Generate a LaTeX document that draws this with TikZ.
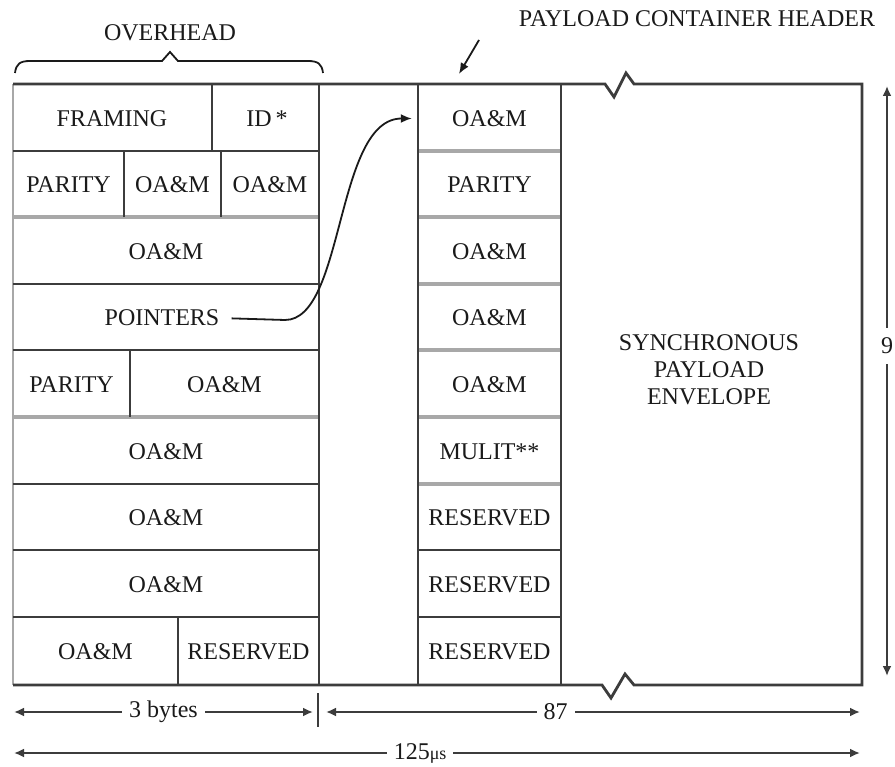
\documentclass[tikz,border=0pt]{standalone}
\usepackage{fontspec}
\setmainfont{Liberation Serif}
\usetikzlibrary{arrows.meta,calc}
\definecolor{ln}{HTML}{3C3C3C}
\definecolor{gl}{HTML}{A8A8A8}
\definecolor{tx}{HTML}{1A1A1A}
\begin{document}
\begin{tikzpicture}[x=1pt,y=-1pt,
  dk/.style={draw=ln,line width=2.8pt},
  gr/.style={draw=gl,line width=4.5pt},
  lg/.style={draw=gl,line width=2.2pt},
  lbl/.style={text=tx,font=\fontsize{24}{27}\selectfont,inner sep=0pt,align=center},
  cell/.style={lbl,minimum width=143pt,minimum height=66pt},
  dim/.style={draw=ln,line width=2pt,{Latex[length=10pt,width=9pt]}-{Latex[length=10pt,width=9pt]}},
  dlab/.style={lbl,fill=white,inner xsep=7pt,inner ysep=3pt},
  ptrarrow/.style={draw=tx,line width=1.8pt,-{Latex[length=11pt,width=9pt]}},
]
\useasboundingbox (0,0) rectangle (895,767);
\fill[white] (0,0) rectangle (895,767);

% gray dividers
\foreach \y in {151,217,284,350,417,484} \draw[gr] (418,\y) -- (561,\y);
\draw[gr] (13,217) -- (319,217);
\draw[gr] (13,417) -- (319,417);
\draw[lg] (13,84) -- (13,685);

% dark dividers
\foreach \y in {151,284,350,484,550,617} \draw[dk] (13,\y) -- (319,\y);
\foreach \y in {550,617} \draw[dk] (418,\y) -- (561,\y);

% outline with breaks
\draw[dk] (13,84) -- (605,84) -- (614,97) -- (626,73) -- (634,84) -- (862,84) -- (862,685)
  -- (634,685) -- (625,674) -- (611,698) -- (602,685) -- (13,685);
\draw[dk] (319,84) -- (319,685);
\draw[dk] (418,84) -- (418,685);
\draw[dk] (561,84) -- (561,685);

% vertical cell dividers
\draw[dk] (212,84) -- (212,151);
\draw[dk] (124,151) -- (124,217);
\draw[dk] (221,151) -- (221,217);
\draw[dk] (130,350) -- (130,417);
\draw[dk] (178,617) -- (178,685);

% left block texts
\node[lbl] (fr) at (112,118.5) {FRAMING};
\node[lbl] (id) at (267,118.5) {ID\,*};
\node[lbl] (p1) at (68.5,185) {PARITY};
\node[lbl] (o1) at (172.5,185) {OA\&M};
\node[lbl] (o2) at (270,185) {OA\&M};
\node[lbl] (o3) at (166,251.5) {OA\&M};
\node[lbl] (ptr) at (162,318) {POINTERS};
\node[lbl] (p2) at (71.5,384.5) {PARITY};
\node[lbl] (o4) at (224.5,384.5) {OA\&M};
\node[lbl] (o5) at (166,451.5) {OA\&M};
\node[lbl] (o6) at (166,518) {OA\&M};
\node[lbl] (o7) at (166,584.5) {OA\&M};
\node[lbl] (o8) at (95.5,652) {OA\&M};
\node[lbl] (r0) at (248.5,652) {RESERVED};

% header column
\node[cell] (h1) at (489.5,118.5) {OA\&M};
\node[cell] (h2) at (489.5,185) {PARITY};
\node[cell] (h3) at (489.5,251.5) {OA\&M};
\node[cell] (h4) at (489.5,318) {OA\&M};
\node[cell] (h5) at (489.5,384.5) {OA\&M};
\node[cell] (h6) at (489.5,451.5) {MULIT**};
\node[cell] (h7) at (489.5,518) {RESERVED};
\node[cell] (h8) at (489.5,584.5) {RESERVED};
\node[cell] (h9) at (489.5,652) {RESERVED};

% SPE
\node[lbl] (spe) at (709,370) {SYNCHRONOUS\\PAYLOAD\\ENVELOPE};

% overhead brace
\node[lbl] (oh) at (170,33) {OVERHEAD};
\draw[draw=tx,line width=1.8pt] (15,73) .. controls (16,64) and (20,61) .. (30,61) -- (162,61)
  -- (170,52) -- (178,61) -- (308,61) .. controls (318,61) and (322,64) .. (323,73);

% payload container header label
\node[lbl] (pch) at (697,19) {PAYLOAD CONTAINER HEADER};
\coordinate (pa) at (479,40);
\coordinate (pb) at (459,74);
\draw[ptrarrow] (pa) -- (pb);

% pointer curve
\draw[ptrarrow, shorten <=12pt, shorten >=6pt] (ptr.east) -- (285,320)
  .. controls (345,320) and (335,118.5) .. (h1.west);

% dimensions
\coordinate (d1a) at (14,712);
\coordinate (d1b) at (313,712);
\draw[dim] (d1a) -- node[dlab] {3 bytes} (d1b);
\coordinate (t1) at (318,693);
\coordinate (t2) at (318,727);
\draw[draw=ln,line width=2pt] (t1) -- (t2);
\coordinate (d2a) at (326,712);
\coordinate (d2b) at (860,712);
\draw[dim] (d2a) -- node[dlab,pos=0.43] {87} (d2b);
\coordinate (d3a) at (14,753);
\coordinate (d3b) at (860,753);
\draw[dim] (d3a) -- node[dlab,pos=0.48] {125{\fontsize{18}{20}\selectfont μs}} (d3b);
\coordinate (d4a) at (887,86);
\coordinate (d4b) at (887,676);
\draw[dim] (d4a) -- node[dlab,pos=0.44,inner xsep=1pt,inner ysep=10pt] {9} (d4b);
\end{tikzpicture}
\end{document}
